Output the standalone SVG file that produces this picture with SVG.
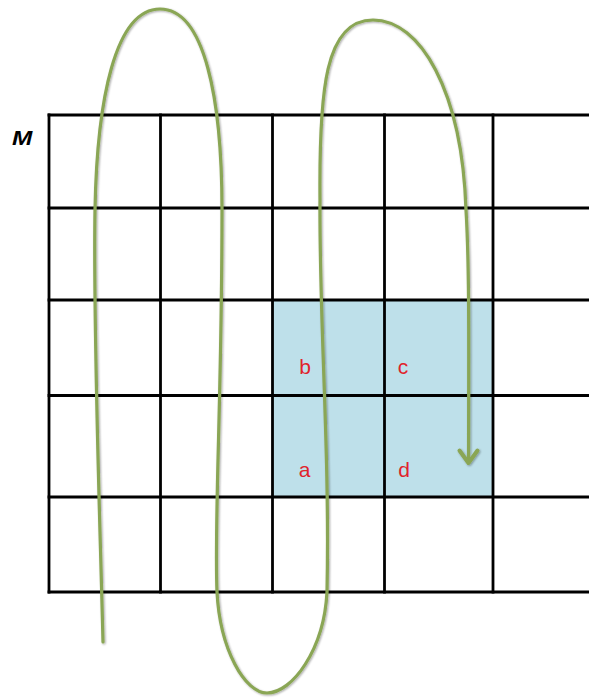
<svg xmlns="http://www.w3.org/2000/svg" width="589" height="699" viewBox="0 0 589 699">
  <defs>
    <filter id="shadow" x="-5%" y="-5%" width="110%" height="110%">
      <feGaussianBlur in="SourceAlpha" stdDeviation="0.8"/>
      <feOffset dx="0.8" dy="0.8" result="b"/>
      <feComponentTransfer><feFuncA type="linear" slope="0.35"/></feComponentTransfer>
      <feMerge><feMergeNode/><feMergeNode in="SourceGraphic"/></feMerge>
    </filter>
  </defs>
  <style>
    .grid line { stroke: #000; stroke-width: 2.8; stroke-linecap: square; }
    .lbl { font-family: "Liberation Sans", Arial, sans-serif; font-size: 21px; fill: #e0232b; text-anchor: middle; }
    .title { font-family: "Liberation Sans", Arial, sans-serif; font-size: 20px; font-weight: bold; font-style: italic; fill: #000; }
    .path { fill: none; stroke: #8aa654; stroke-width: 3.2; stroke-linecap: round; stroke-linejoin: round; }
  </style>
  <rect width="589" height="699" fill="#fff"/>
  <g id="highlight">
    <rect x="272" y="300" width="221" height="197" fill="#bee0ea"/>
  </g>
  <g id="grid" class="grid">
    <line x1="49" y1="115" x2="589" y2="115"/>
    <line x1="49" y1="208" x2="589" y2="208"/>
    <line x1="49" y1="300" x2="589" y2="300"/>
    <line x1="49" y1="395.5" x2="589" y2="395.5"/>
    <line x1="49" y1="497" x2="589" y2="497"/>
    <line x1="49" y1="592" x2="589" y2="592"/>
    <line x1="49" y1="115" x2="49" y2="592"/>
    <line x1="160.5" y1="115" x2="160.5" y2="592"/>
    <line x1="272.5" y1="115" x2="272.5" y2="592"/>
    <line x1="384.5" y1="115" x2="384.5" y2="592"/>
    <line x1="493" y1="115" x2="493" y2="592"/>
  </g>
  <g id="label-M"><text class="title" transform="translate(12,145) scale(1.22,1)">M</text></g>
  <g id="label-b"><text class="lbl" x="305" y="374">b</text></g>
  <g id="label-c"><text class="lbl" x="403" y="374">c</text></g>
  <g id="label-a"><text class="lbl" x="304.5" y="477">a</text></g>
  <g id="label-d"><text class="lbl" x="404" y="477">d</text></g>
  <g id="connectors" filter="url(#shadow)">
    <path class="path" d="M103,642 C100,520 93,330 95,210 C97,100 115,9 160,9 C205,9 222,100 222,210 C222,400 214,520 217,592 C220,650 245,693 267,693 C292,693 324,650 327,592 C330,450 319,320 320,200 C319,90 325,20 373,20 C420,20 462,90 466,210 C469,260 469,320 468.5,463"/>
    <polyline class="path" style="stroke-width:4" points="459.5,450.5 468.5,463 477.5,450.5"/>
  </g>
</svg>
